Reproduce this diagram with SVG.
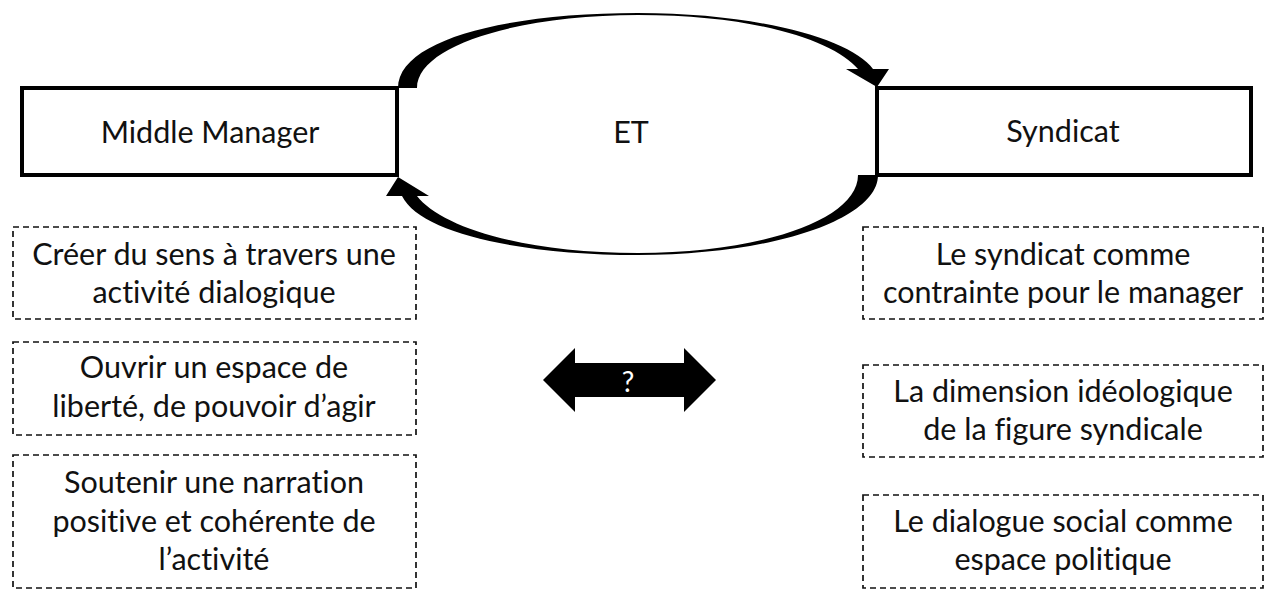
<svg xmlns="http://www.w3.org/2000/svg" width="1269" height="603" viewBox="0 0 1269 603">
<style>
.t{font-family:Lato,"Open Sans","Liberation Sans",sans-serif;font-size:30.5px;fill:#111;text-anchor:middle;font-variant-ligatures:none}
.main{fill:#fff;stroke:#000;stroke-width:4}
.dash{fill:#fff;stroke:#111;stroke-width:1.7;stroke-dasharray:6 4}
.arr{fill:#000;stroke:none}
</style>
<rect width="1269" height="603" fill="#fff"/>
<g id="et">
<path d="M398,88 C398,40 505,13 638,13 C771,13 878,40 878,88 L878,175 C878,220 771,255 638,255 C505,255 398,220 398,175 Z" fill="#fff" stroke="none"/>
<text class="t" x="631" y="143">ET</text>
</g>
<g id="middle-manager">
<rect class="main" x="22" y="88" width="375" height="87"/>
<text class="t" x="210" y="143">Middle Manager</text>
</g>
<g id="syndicat">
<rect class="main" x="877" y="88" width="374" height="87"/>
<text class="t" x="1063" y="142">Syndicat</text>
</g>
<g id="connectors">
<path class="arr" d="M398,88 C398,40 505,13 638,13 C760,13 852,40 873,69 L889,69 L877,87 L846,69 L858,69 C835,42 760,15 638,15 C520,15 417,45 417,88 Z"/>
<path class="arr" d="M878,175 C878,220 771,255 638,255 C520,255 420,233 402,196 L386,196 L398,177 L429,196 L417,196 C440,226 520,253 638,253 C760,253 858,220 858,175 Z"/>
</g>
<g id="question">
<path class="arr" d="M543,380 L575,348 L575,363 L684,363 L684,348 L716,380 L684,412 L684,397 L575,397 L575,412 Z"/>
<text x="628" y="392" style="font-family:Lato,'Liberation Sans',sans-serif;font-size:28px;fill:#fff;text-anchor:middle">?</text>
</g>
<g id="mm1">
<rect class="dash" x="13" y="227" width="403" height="92"/>
<text class="t" x="214" y="265">Créer du sens à travers une</text>
<text class="t" x="214" y="303">activité dialogique</text>
</g>
<g id="mm2">
<rect class="dash" x="13" y="342" width="403" height="93"/>
<text class="t" x="214" y="378">Ouvrir un espace de</text>
<text class="t" x="214" y="417">liberté, de pouvoir d’agir</text>
</g>
<g id="mm3">
<rect class="dash" x="13" y="455" width="403" height="133"/>
<text class="t" x="214" y="493">Soutenir une narration</text>
<text class="t" x="214" y="532">positive et cohérente de</text>
<text class="t" x="214" y="570">l’activité</text>
</g>
<g id="s1">
<rect class="dash" x="863" y="227" width="400" height="92"/>
<text class="t" x="1063" y="265">Le syndicat comme</text>
<text class="t" x="1063" y="303">contrainte pour le manager</text>
</g>
<g id="s2">
<rect class="dash" x="863" y="365" width="400" height="92"/>
<text class="t" x="1063" y="402">La dimension idéologique</text>
<text class="t" x="1063" y="440">de la figure syndicale</text>
</g>
<g id="s3">
<rect class="dash" x="863" y="495" width="400" height="93"/>
<text class="t" x="1063" y="532">Le dialogue social comme</text>
<text class="t" x="1063" y="570">espace politique</text>
</g>
</svg>
